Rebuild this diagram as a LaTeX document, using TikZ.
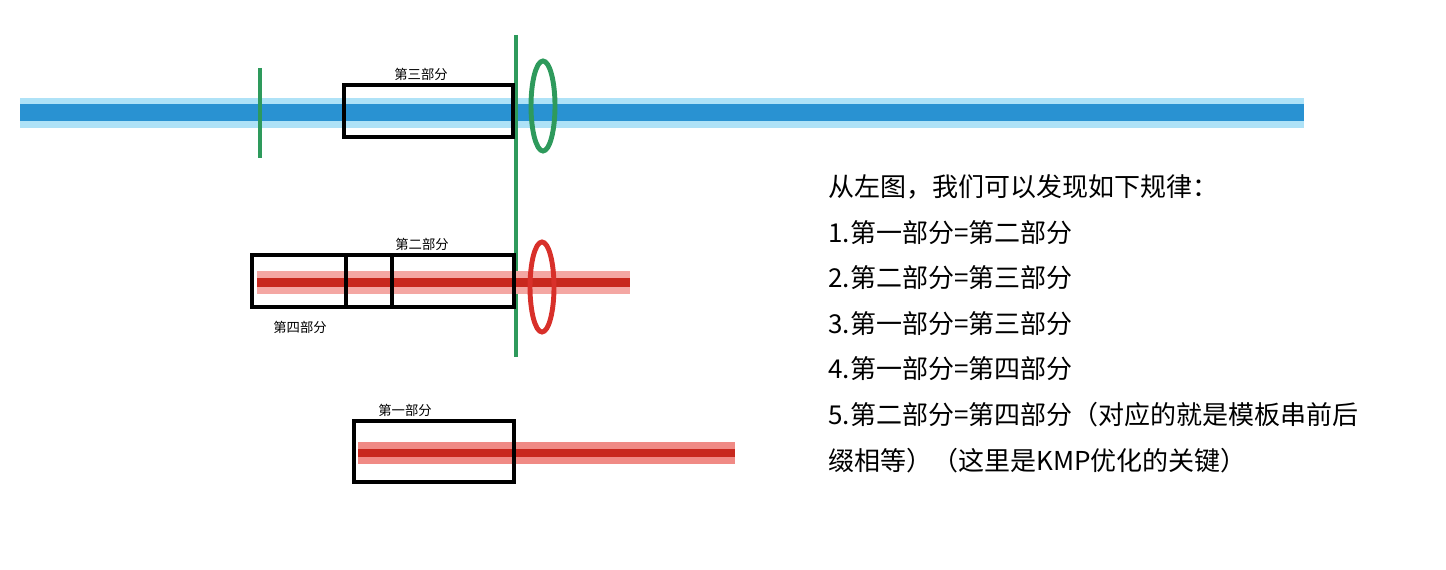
\documentclass[tikz,border=0pt]{standalone}
\usepackage{fontspec}
\setmainfont{Noto Sans CJK SC}
\usetikzlibrary{positioning}
\definecolor{BarBlue}{HTML}{2992D2}
\definecolor{HaloBlue}{HTML}{AEE2F7}
\definecolor{BarRed}{HTML}{C8281E}
\definecolor{HaloRed}{HTML}{F08A85}
\definecolor{MarkGreen}{HTML}{2E9A5C}
\definecolor{RingRed}{HTML}{D8302A}

\tikzset{
  partbox/.style={draw=black, line width=2.3pt},
  partlabel/.style={font=\fontsize{7.6pt}{9pt}\selectfont, inner sep=0pt},
  ruletext/.style={font=\fontsize{14.8pt}{17pt}\selectfont, anchor=west, inner sep=0pt},
  greenmark/.style={draw=MarkGreen, line width=2pt}
}

\begin{document}
\begin{tikzpicture}[x=0.02cm, y=-0.02cm]
  \useasboundingbox (0,0) rectangle (1446,570);

  % Main string (blue)
  \draw[HaloBlue, line width=0.6cm] (20,113) -- (1304,113);
  \draw[BarBlue, line width=0.34cm] (20,113) -- (1304,113);

  % Green marks: mismatch position
  \draw[greenmark] (260,68) -- (260,158);
  \draw[greenmark, line width=2.2pt] (516,35) -- (516,357);
  \draw[MarkGreen, line width=2.8pt] (543,106) ellipse (12 and 45);

  % Third part box
  \draw[partbox] (344,85) rectangle (513,137);
  \node[partlabel] (third) at (421,74) {第三部分};

  % Pattern string (red), second row
  \draw[HaloRed!75, line width=0.46cm] (257,283) -- (630,283);
  \draw[BarRed, line width=0.18cm] (257,283) -- (630,283);
  \draw[partbox] (252,255) rectangle (514,307);
  \draw[partbox] (346,255) -- (346,307);
  \draw[partbox] (392,255) -- (392,307);
  \node[partlabel] (second) at (422,244) {第二部分};
  \node[partlabel] (fourth) at (300,327) {第四部分};
  \draw[RingRed, line width=2.8pt] (542,287) ellipse (12 and 45);

  % Pattern string (red), third row
  \draw[HaloRed, line width=0.46cm] (358,453) -- (735,453);
  \draw[BarRed, line width=0.17cm] (358,453) -- (735,453);
  \draw[partbox] (354,421) rectangle (514,482);
  \node[partlabel] (first) at (405,410) {第一部分};

  % Observations
  \node[ruletext] (intro) at (828,187) {从左图，我们可以发现如下规律：};
  \node[ruletext] (rule1) at (828,233) {1.第一部分=第二部分};
  \node[ruletext] (rule2) at (828,278) {2.第二部分=第三部分};
  \node[ruletext] (rule3) at (828,324) {3.第一部分=第三部分};
  \node[ruletext] (rule4) at (828,369) {4.第一部分=第四部分};
  \node[ruletext] (rule5) at (828,415) {5.第二部分=第四部分（对应的就是模板串前后};
  \node[ruletext] (rule6) at (828,461) {缀相等）（这里是KMP优化的关键）};
\end{tikzpicture}
\end{document}
